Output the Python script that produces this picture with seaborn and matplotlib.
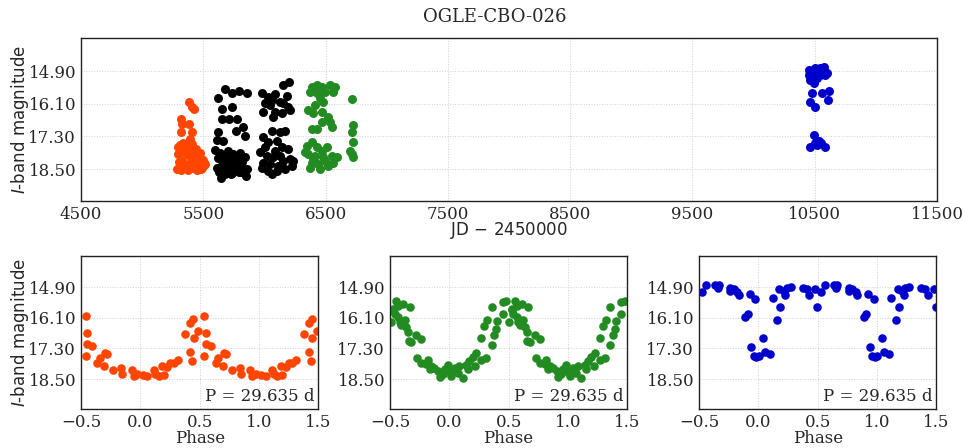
import numpy as np
import pandas as pd
import seaborn as sns
import matplotlib.pyplot as plt

# ----------------------
# Data: full light curve (JD - 2450000, I mag)
# ----------------------
jd_orange = [5383, 5421, 5405, 5318, 5323, 5383, 5318, 5410, 5391, 5290, 5310, 5335, 5360,
             5385, 5410, 5440, 5470, 5500, 5295, 5320, 5350, 5378, 5402, 5430, 5455, 5485,
             5512, 5300, 5330, 5355, 5395, 5425, 5460, 5490, 5285, 5315, 5345, 5372, 5415,
             5445, 5478, 5505]
mag_orange = [16.04, 16.30, 16.20, 16.64, 16.83, 16.83, 17.14, 17.14, 17.38, 17.70, 17.60,
              17.55, 17.65, 17.52, 17.58, 17.75, 17.90, 18.15, 17.95, 17.85, 17.92, 18.00,
              17.80, 18.05, 18.10, 18.20, 18.30, 18.25, 18.20, 18.35, 18.28, 18.40, 18.32,
              18.45, 18.50, 18.55, 18.48, 18.52, 18.45, 18.55, 18.50, 18.35]

jd_black = [5623, 5678, 5738, 5795, 5855, 5650, 5738, 5650, 5713, 5773, 5827, 5623, 5765,
            5610, 5841, 5660, 5600, 5620, 5640, 5660, 5680, 5700, 5720, 5740, 5760, 5780,
            5800, 5820, 5840, 5860, 5610, 5630, 5655, 5675, 5695, 5715, 5735, 5755, 5790,
            5815, 5850, 5645, 5690, 5725, 5770, 5805,
            6204, 6155, 5978, 6087, 6032, 6182, 6060, 6128, 6005, 6155, 6196, 6046, 5991,
            6087, 6141, 6210, 6073, 6060, 6128, 6168, 5991, 6032, 6100, 6196, 5964, 6019,
            6073, 6128, 6210, 5991, 6046, 6114, 6168, 6237, 6060, 6005, 6087, 6155, 5978,
            6032, 6100, 6223, 6141]
mag_black = [15.87, 15.55, 15.71, 15.61, 15.71, 16.29, 16.23, 16.64, 16.64, 16.64, 16.95,
             17.14, 17.11, 17.42, 17.30, 17.45, 17.80, 18.10, 17.90, 18.30, 18.00, 17.85,
             18.20, 17.95, 18.40, 18.10, 17.90, 18.25, 18.05, 18.50, 18.45, 18.60, 18.35,
             18.70, 18.55, 18.40, 18.65, 18.30, 18.60, 18.50, 18.75, 18.82, 18.15, 18.70,
             18.45, 18.60,
             15.30, 15.40, 15.71, 15.73, 15.83, 15.80, 15.96, 16.02, 16.08, 16.08, 16.20,
             16.14, 16.39, 16.39, 16.45, 16.33, 16.58, 17.08, 17.14, 17.08, 17.33, 17.52,
             17.45, 17.76, 17.89, 18.01, 18.07, 18.01, 18.14, 18.26, 18.32, 18.39, 18.51,
             18.20, 18.70, 17.70, 17.82, 18.20, 18.45, 18.57, 18.57, 18.39, 17.70]

jd_green = [6387, 6428, 6469, 6537, 6578, 6373, 6428, 6496, 6564, 6455, 6482, 6414, 6359,
            6400, 6469, 6523, 6469, 6537, 6387, 6428, 6550, 6346, 6387, 6428, 6469, 6509,
            6359, 6414, 6482, 6550, 6591, 6387, 6441, 6523, 6373, 6455, 6564, 6496, 6332,
            6400, 6714, 6728, 6714, 6728, 6700, 6728, 6714]
mag_green = [15.46, 15.40, 15.46, 15.40, 15.46, 15.65, 15.71, 15.65, 15.65, 15.89, 16.02,
             16.14, 16.33, 16.45, 16.39, 16.58, 16.77, 16.77, 17.01, 17.01, 16.95, 17.64,
             17.51, 17.70, 17.82, 17.70, 17.95, 18.01, 18.07, 18.01, 18.07, 18.26, 18.32,
             18.38, 18.45, 18.51, 18.26, 18.20, 17.89, 18.14, 15.93, 16.89, 17.14, 17.51,
             17.82, 18.07, 17.95]

jd_blue = [10451, 10478, 10506, 10547, 10574, 10588, 10465, 10492, 10519, 10547, 10478,
           10451, 10601, 10533, 10574, 10478, 10560, 10615, 10465, 10506, 10609, 10492,
           10519, 10465, 10506, 10555, 10588, 10533]
mag_blue = [15.02, 14.96, 14.77, 14.77, 14.90, 15.02, 15.21, 15.33, 15.15, 15.02, 15.08,
            14.84, 14.96, 14.90, 14.74, 15.68, 15.68, 15.64, 16.02, 16.21, 15.96, 17.26,
            17.63, 17.70, 17.55, 17.55, 17.67, 17.45]

# ----------------------
# Data: phased light curves (phase in [-0.5, 0.5), I mag)
# ----------------------
phase_orange = [-0.460, -0.447, -0.447, -0.405, -0.460, -0.363, -0.343, -0.298, -0.279,
                -0.307, -0.231, -0.161, -0.153, -0.074, -0.055, -0.027, 0.021, 0.057,
                0.113, 0.128, 0.155, 0.197, 0.183, 0.225, 0.254, 0.282, 0.315, 0.380,
                0.422, 0.444, 0.450, 0.422, 0.435, 0.486]
pmag_orange = [16.04, 16.69, 17.13, 17.19, 17.58, 17.86, 17.69, 17.48, 17.51, 17.99, 18.13,
               18.08, 18.31, 18.16, 18.37, 18.28, 18.35, 18.37, 18.13, 18.28, 18.37, 18.33,
               17.97, 18.02, 17.86, 17.88, 17.77, 16.74, 16.31, 16.14, 16.90, 17.42, 17.80,
               16.62]

phase_green = [-0.475, -0.447, -0.433, -0.461, -0.433, -0.391, -0.419, -0.377, -0.405,
               -0.335, -0.363, -0.349, -0.279, -0.343, -0.321, -0.237, -0.271, -0.237,
               -0.181, -0.195, -0.153, -0.125, -0.166, -0.096, -0.082, -0.055, -0.040,
               -0.013, 0.002, 0.015, 0.044, 0.071, 0.086, 0.113, 0.141, 0.155, 0.170,
               0.197, 0.225, 0.217, 0.267, 0.309, 0.267, 0.296, 0.318, 0.357, 0.380,
               0.393, 0.402, 0.357, 0.450, 0.450, 0.478, -0.494, -0.475]
pmag_green = [15.75, 15.46, 15.63, 15.95, 16.08, 15.56, 16.27, 16.20, 16.39, 15.69, 16.46,
              16.65, 16.78, 17.00, 17.03, 16.94, 17.67, 17.86, 17.74, 17.92, 17.97, 18.05,
              18.12, 18.18, 18.40, 18.31, 18.12, 17.93, 18.22, 18.37, 18.05, 18.25, 17.99,
              18.44, 17.93, 18.12, 17.80, 17.63, 17.48, 17.97, 17.74, 17.67, 16.90, 16.42,
              16.18, 17.16, 16.78, 16.52, 16.23, 15.67, 15.95, 15.50, 15.44, 16.27, 15.79]

phase_blue = [-0.475, -0.439, -0.363, -0.335, -0.343, -0.237, -0.237, -0.209, -0.181,
              -0.166, -0.074, -0.027, -0.111, -0.091, -0.063, -0.040, 0.002, -0.018,
              0.038, 0.057, 0.099, 0.122, 0.161, 0.183, 0.178, 0.212, 0.225, 0.239,
              0.273, 0.374, 0.408, 0.430, 0.477, 0.497]
pmag_blue = [15.09, 14.83, 14.83, 14.82, 14.93, 14.93, 15.05, 14.99, 15.08, 15.21, 15.18,
             15.35, 16.05, 15.97, 17.26, 17.61, 17.61, 17.64, 16.88, 17.42, 17.52, 15.31,
             16.18, 15.67, 14.99, 15.05, 15.21, 14.93, 14.90, 14.93, 14.99, 15.21, 14.99,
             15.67]

period = 29.635
mag_ticks = [14.90, 16.10, 17.30, 18.50]
mag_lim = (19.68, 13.68)

# ----------------------
# Style
# ----------------------
sns.set_style('white')
plt.rcParams['font.family'] = 'DejaVu Serif'
plt.rcParams['mathtext.fontset'] = 'dejavusans'

c_orange = '#ff4500'
c_green = '#228b22'
c_blue = '#0000cd'
c_black = 'black'


def style_axis(ax):
    ax.set_ylim(*mag_lim)
    ax.set_yticks(mag_ticks)
    ax.set_yticklabels(['%.2f' % t for t in mag_ticks])
    ax.grid(True, linestyle=':', color='#d0d0d0', linewidth=0.7)
    ax.tick_params(direction='in', labelsize=12, length=4)
    for s in ax.spines.values():
        s.set_color('#222222')
        s.set_linewidth(1.0)


fig = plt.figure(figsize=(9.65, 4.48), dpi=100)
ax_top = fig.add_axes([0.0839, 0.5513, 0.8871, 0.3632])
ax_p = [fig.add_axes([x0, 0.0864, 0.2459, 0.3422]) for x0 in (0.0839, 0.4041, 0.7244)]

# ----------------------
# Top: full light curve
# ----------------------
for jd, mag, col in [(jd_orange, mag_orange, c_orange), (jd_black, mag_black, c_black),
                     (jd_green, mag_green, c_green), (jd_blue, mag_blue, c_blue)]:
    df = pd.DataFrame({'jd': jd, 'mag': mag})
    sns.scatterplot(data=df, x='jd', y='mag', color=col, s=42, linewidth=0, ax=ax_top)

ax_top.set_xlim(4500, 11500)
ax_top.set_xticks(range(4500, 11501, 1000))
style_axis(ax_top)
ax_top.set_xlabel('JD $-$ 2450000', fontfamily='DejaVu Sans', fontsize=12, labelpad=-2)
ax_top.set_ylabel('$I$-band magnitude', fontfamily='DejaVu Sans', fontsize=12, labelpad=-2)
fig.text(0.513, 0.963, 'OGLE-CBO-026', ha='center', va='center', fontsize=13)

# ----------------------
# Bottom: phased light curves, shown twice
# ----------------------
for ax, ph, mag, col in [(ax_p[0], phase_orange, pmag_orange, c_orange),
                         (ax_p[1], phase_green, pmag_green, c_green),
                         (ax_p[2], phase_blue, pmag_blue, c_blue)]:
    df = pd.DataFrame({'phase': ph, 'mag': mag})
    df2 = df.copy()
    df2['phase'] = df2['phase'] + 1
    sns.scatterplot(data=pd.concat([df, df2]), x='phase', y='mag', color=col, s=38,
                    linewidth=0, ax=ax)
    ax.set_xlim(-0.5, 1.5)
    ax.set_xticks([-0.5, 0.0, 0.5, 1.0, 1.5])
    style_axis(ax)
    ax.set_xlabel('Phase', fontsize=12, labelpad=-1)
    ax.set_ylabel('')
    ax.text(0.985, 0.03, 'P = %.3f d' % period, transform=ax.transAxes,
            ha='right', va='bottom', fontsize=12)

ax_p[0].set_ylabel('$I$-band magnitude', fontfamily='DejaVu Sans', fontsize=12, labelpad=-2)

fig.savefig('out.png', dpi=100)
plt.close(fig)
